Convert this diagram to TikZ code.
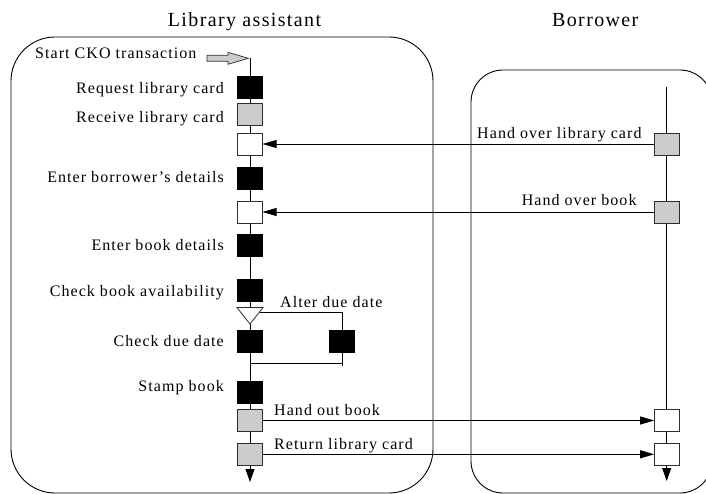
\documentclass[tikz,border=0pt]{standalone}
\usepackage{fontspec}
\setmainfont{Liberation Serif}
\usetikzlibrary{arrows.meta}
\definecolor{actgrey}{RGB}{204,204,204}
\definecolor{boxedge}{RGB}{45,45,45}

\begin{document}
\begin{tikzpicture}[x=1pt,y=-1pt,
  act/.style={draw=boxedge, line width=0.9pt, minimum width=25pt, minimum height=22pt, inner sep=0pt, outer sep=0pt},
  blk/.style={act, fill=black, draw=black},
  gry/.style={act, fill=actgrey},
  wht/.style={act, fill=white},
  lbl/.style={inner sep=0pt, font=\fontsize{16}{19}\selectfont\addfontfeature{LetterSpace=6.6}},
  ttl/.style={inner sep=0pt, font=\fontsize{20}{24}\selectfont\addfontfeature{LetterSpace=6.8}},
  msg/.style={draw=black, line width=0.8pt, -{Triangle[length=14pt,width=8pt]}},
  life/.style={draw=black, line width=0.8pt},
  endtip/.style={-{Triangle[length=13pt,width=9pt]}},
  panel/.style={draw=black, line width=0.9pt},
]
\useasboundingbox (0,0) rectangle (706,494);
\clip (0,0) rectangle (706,494);

% swimlane titles
\node[ttl, anchor=base] (tLib) at (244.5,26.7) {Library assistant};
\node[ttl, anchor=base west] (tBor) at (552,26.7) {Borrower};

% swimlanes
\draw[panel, rounded corners=44pt] (11,37) rectangle (433,493);
\draw[panel, rounded corners=32pt] (471,70) rectangle (712,493);

% lifelines
\coordinate (ltop) at (250,58.3);
\coordinate (lend) at (250,482);
\coordinate (rtop) at (666.7,86.7);
\coordinate (rend) at (666.7,481);
\draw[life, endtip] (ltop) -- (lend);
\draw[life, endtip] (rtop) -- (rend);

% start marker
\draw[draw=boxedge, line width=0.7pt, fill=actgrey]
  (207,55.3) -- (228,55.3) -- (228,52.3) -- (248.3,58.3) -- (228,64.3) -- (228,61.3) -- (207,61.3) -- cycle;
\node[lbl, anchor=base west] (lStart) at (35,58.3) {Start CKO transaction};

% library assistant activities
\node[blk] (b1) at (250,87.5) {};
\node[gry] (b2) at (250,114.5) {};
\node[wht] (b3) at (250,144) {};
\node[blk] (b4) at (250,178) {};
\node[wht] (b5) at (250,212) {};
\node[blk] (b6) at (250,245.7) {};
\node[blk] (b7) at (250,290.7) {};
\node[blk] (b9) at (250,341.3) {};
\node[blk] (b10) at (342,341.8) {};
\node[blk] (b11) at (250,392) {};
\node[gry] (b12) at (250,420.5) {};
\node[gry] (b13) at (250,454.3) {};

% branch for the optional step
\coordinate (triL) at (237,307.5);
\coordinate (triR) at (263,307.5);
\coordinate (triB) at (250,324);
\draw[draw=boxedge, line width=0.8pt, fill=white] (triL) -- (triR) -- (triB) -- cycle;
\coordinate (brA) at (259.5,312.7);
\coordinate (brB) at (342,312.7);
\coordinate (mgR) at (342,365.5);
\coordinate (mgL) at (250,363.3);
\draw[life] (brA) -- (brB) -- (b10.north);
\draw[life] (b10.south) -- (mgR);
\draw[life] (mgL) -- (mgL -| mgR);

% borrower activities
\node[gry] (r1) at (666.7,144) {};
\node[gry] (r2) at (666.7,212) {};
\node[wht] (r3) at (666.7,420.5) {};
\node[wht] (r4) at (666.7,454.3) {};

% messages
\draw[msg] (r1.west) -- (b3.east);
\draw[msg] (r2.west) -- (b5.east);
\draw[msg] (b12.east) -- (r3.west);
\draw[msg] (b13.east) -- (r4.west);

% labels
\node[lbl, anchor=base east] (l1) at (224,93.3) {Request library card};
\node[lbl, anchor=base east] (l2) at (224,122.7) {Receive library card};
\node[lbl, anchor=base east] (l4) at (224,182.7) {Enter borrower’s details};
\node[lbl, anchor=base east] (l6) at (224,250.7) {Enter book details};
\node[lbl, anchor=base east] (l7) at (224,296) {Check book availability};
\node[lbl, anchor=base east] (l9) at (224,346.7) {Check due date};
\node[lbl, anchor=base east] (l11) at (224,391.7) {Stamp book};
\node[lbl, anchor=base west] (l10) at (280,307.7) {Alter due date};
\node[lbl, anchor=base west] (m3) at (274,415) {Hand out book};
\node[lbl, anchor=base west] (m4) at (274,449.3) {Return library card};
\node[lbl, anchor=base east] (m1) at (641.7,138.3) {Hand over library card};
\node[lbl, anchor=base east] (m2) at (636.7,205.7) {Hand over book};
\end{tikzpicture}
\end{document}
